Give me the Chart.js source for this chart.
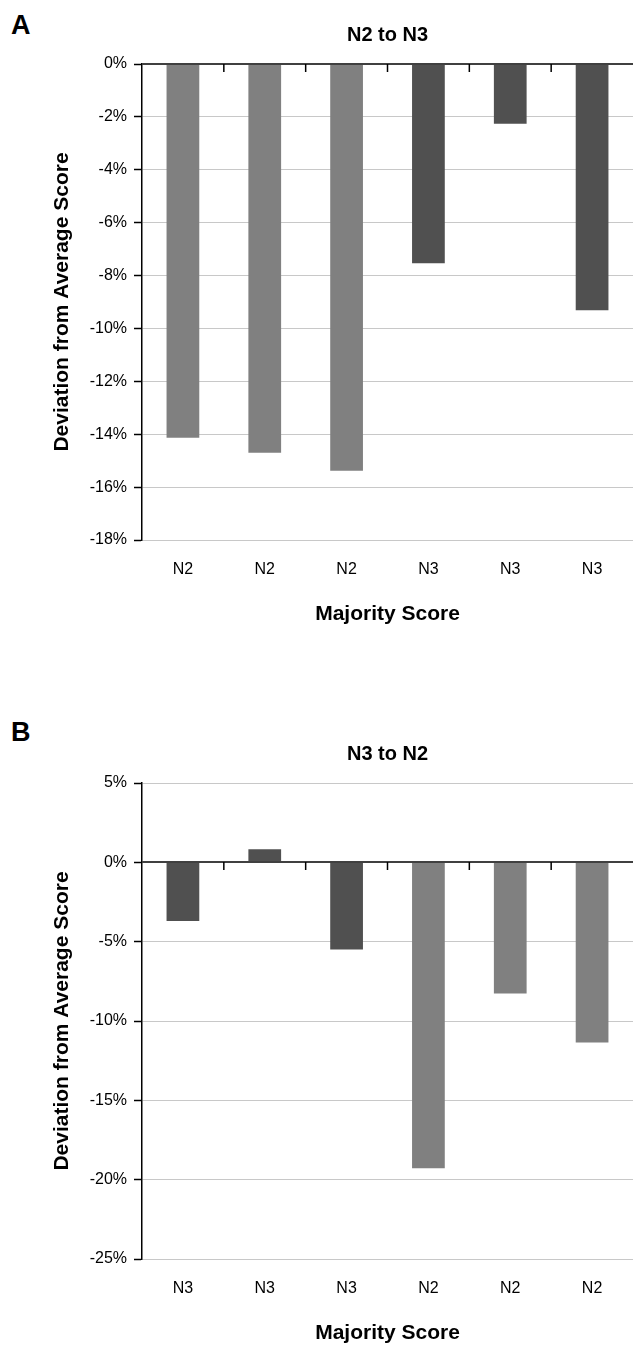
<!DOCTYPE html>
<html>
<head>
<meta charset="utf-8">
<script src="https://cdn.jsdelivr.net/npm/chart.js@4/dist/chart.umd.min.js"></script>
<style>
    body { margin: 0; background: #ffffff; }
    #page { position: relative; width: 633px; height: 1349px; overflow: hidden; }
    .panel-letter {
        position: absolute;
        left: 11px;
        font: bold 27px 'Liberation Sans', Arial, sans-serif;
        line-height: 27px;
        color: #000;
    }
    canvas { position: absolute; left: 0; }
</style>
</head>
<body>
<div id="page">
    <div class="panel-letter" style="top: 12px;">A</div>
    <canvas id="chartA" width="633" height="630" style="top: 0;"></canvas>
    <div class="panel-letter" style="top: 719px;">B</div>
    <canvas id="chartB" width="633" height="630" style="top: 719px;"></canvas>
</div>

<script>
// Panel A: N2 to N3
const categoriesA = ['N2', 'N2', 'N2', 'N3', 'N3', 'N3'];
const deviationA = [-14.13, -14.7, -15.38, -7.53, -2.26, -9.31];
const yTicksA = [0, -2, -4, -6, -8, -10, -12, -14, -16, -18];

// Panel B: N3 to N2
const categoriesB = ['N3', 'N3', 'N3', 'N2', 'N2', 'N2'];
const deviationB = [-3.7, 0.82, -5.5, -19.28, -8.27, -11.36];
const yTicksB = [5, 0, -5, -10, -15, -20, -25];

const scoreColors = { N2: '#808080', N3: '#505050' };
const fontFamily = "'Liberation Sans', Arial, sans-serif";

Chart.defaults.font.family = fontFamily;
Chart.defaults.color = '#000';

// Dark zero line with small category ticks hanging below it
const zeroLinePlugin = {
    id: 'zeroLine',
    afterDatasetsDraw(chart) {
        const { ctx, chartArea, scales: { x, y } } = chart;
        const y0 = Math.round(y.getPixelForValue(0));
        ctx.save();
        ctx.strokeStyle = '#404040';
        ctx.lineWidth = 2;
        ctx.beginPath();
        ctx.moveTo(chartArea.left, y0);
        ctx.lineTo(chartArea.right, y0);
        ctx.stroke();

        ctx.strokeStyle = '#000';
        ctx.lineWidth = 1.5;
        for (let i = 1; i < x.ticks.length; i++) {
            const bx = (x.getPixelForTick(i - 1) + x.getPixelForTick(i)) / 2;
            ctx.beginPath();
            ctx.moveTo(bx, y0);
            ctx.lineTo(bx, y0 + 8);
            ctx.stroke();
        }
        ctx.restore();
    }
};

function renderDeviationChart(canvasId, title, categories, values, yTicks) {
    const canvas = document.getElementById(canvasId);
    if (!canvas || !window.Chart) return;

    const yMin = Math.min(...yTicks);
    const yMax = Math.max(...yTicks);

    return new Chart(canvas, {
        type: 'bar',
        data: {
            labels: categories,
            datasets: [{
                data: values,
                backgroundColor: categories.map(c => scoreColors[c]),
                borderWidth: 0,
                categoryPercentage: 0.4,
                barPercentage: 1
            }]
        },
        options: {
            responsive: false,
            animation: false,
            layout: { padding: 0 },
            plugins: {
                legend: { display: false },
                tooltip: { enabled: false },
                title: {
                    display: true,
                    text: title,
                    fullSize: false,
                    color: '#000',
                    font: { size: 20, weight: 'bold', lineHeight: 1.2 },
                    padding: { top: 23, bottom: 17 }
                }
            },
            scales: {
                x: {
                    position: 'bottom',
                    offset: true,
                    grid: { display: false, drawTicks: false },
                    border: { display: false },
                    ticks: { color: '#000', font: { size: 16 }, padding: 20, maxRotation: 0 },
                    title: {
                        display: true,
                        text: 'Majority Score',
                        color: '#000',
                        font: { size: 21, weight: 'bold', lineHeight: 1.2 },
                        padding: { top: 0, bottom: 3 }
                    },
                    afterFit(scale) { scale.height = 90; }
                },
                y: {
                    min: yMin,
                    max: yMax,
                    afterBuildTicks(scale) {
                        scale.ticks = yTicks.map(v => ({ value: v }));
                    },
                    grid: {
                        color: '#c8c8c8',
                        lineWidth: 1,
                        tickColor: '#000',
                        tickLength: 8,
                        tickWidth: 1.5
                    },
                    border: { display: true, color: '#000', width: 1.5 },
                    ticks: {
                        color: '#000',
                        font: { size: 16 },
                        padding: 7,
                        callback: value => value + '%'
                    },
                    title: {
                        display: true,
                        text: 'Deviation from Average Score',
                        color: '#000',
                        font: { size: 21, weight: 'bold', lineHeight: 1.2 },
                        padding: { top: 50, bottom: 0 }
                    },
                    afterFit(scale) { scale.width = 142; }
                }
            }
        },
        plugins: [zeroLinePlugin]
    });
}

renderDeviationChart('chartA', 'N2 to N3', categoriesA, deviationA, yTicksA);
renderDeviationChart('chartB', 'N3 to N2', categoriesB, deviationB, yTicksB);
</script>
</body>
</html>
